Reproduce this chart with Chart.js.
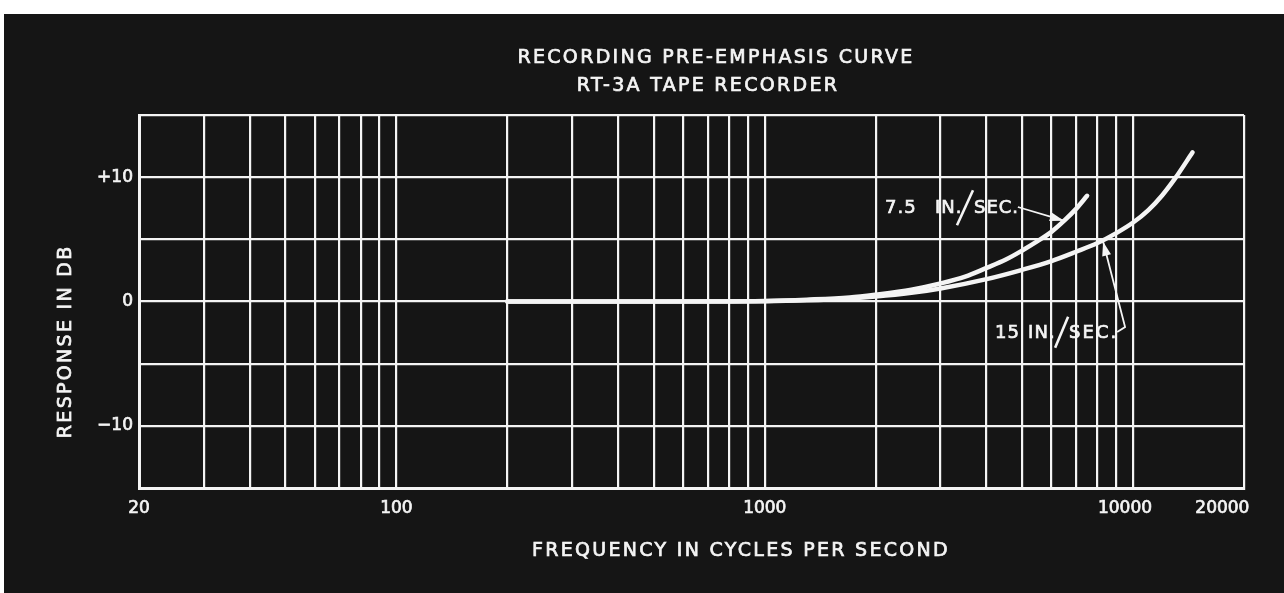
<!DOCTYPE html>
<html><head><meta charset="utf-8">
<script src="https://cdn.jsdelivr.net/npm/chart.js@4/dist/chart.umd.min.js"></script>
<style>html,body{margin:0;padding:0;background:#fff;overflow:hidden}</style>
</head><body>
<canvas id="c" width="1284" height="593"></canvas>
<script>
// ---- data ----
const titleLines = ['RECORDING PRE-EMPHASIS CURVE', 'RT-3A TAPE RECORDER'];
const xAxisTitle = 'FREQUENCY IN CYCLES PER SECOND';
const yAxisTitle = 'RESPONSE IN DB';
const gridFreqs = [20,30,40,50,60,70,80,90,100,200,300,400,500,600,700,800,900,1000,2000,3000,4000,5000,6000,7000,8000,9000,10000,20000];
const xLabelValues = [20, 100, 1000, 10000, 20000];
const xLabelTexts = ['20', '100', '1000', '10000', '20000'];
const yLabelValues = [10, 0, -10];
const yLabelTexts = ['+10', '0', '−10'];
const seriesNames = ['7.5 IN./SEC.', '15 IN./SEC.'];
const freq75 = [200, 500, 1000, 1300, 1700, 2000, 2500, 3000, 3500, 4000, 4500, 5000, 5500, 6000, 6500, 7000, 7500];
const db75   = [0,   0,   0.05, 0.15, 0.32, 0.55, 0.95, 1.45, 2.0,  2.7,  3.35, 4.1,  4.85, 5.6,  6.5,  7.45, 8.5];
const freq15 = [200, 500, 1000, 1300, 1700, 2000, 2500, 3000, 4000, 5000, 6000, 7000, 8000, 9000, 10000, 11000, 12000, 13000, 14500];
const db15   = [0,   0,   0.03, 0.1,  0.25, 0.4,  0.7,  1.05, 1.8,  2.55, 3.25, 4.0,  4.7,  5.5,  6.35,  7.35,  8.55,  9.9,   12.0];

const FONT = "'DejaVu Sans', sans-serif";
const WHITE = '#f4f4f4';

const bgPlugin = {
  id: 'bg',
  beforeDraw(chart) {
    const c = chart.ctx;
    c.save();
    c.fillStyle = '#ffffff';
    c.fillRect(0, 0, chart.width, chart.height);
    c.fillStyle = '#151515';
    c.fillRect(4, 14, chart.width - 4, chart.height - 14);
    c.restore();
  }
};

function arrowHead(ctx, x0, y0, x1, y1, len, half) {
  const a = Math.atan2(y1 - y0, x1 - x0);
  ctx.beginPath();
  ctx.moveTo(x1, y1);
  ctx.lineTo(x1 - len * Math.cos(a) + half * Math.sin(a), y1 - len * Math.sin(a) - half * Math.cos(a));
  ctx.lineTo(x1 - len * Math.cos(a) - half * Math.sin(a), y1 - len * Math.sin(a) + half * Math.cos(a));
  ctx.closePath();
  ctx.fill();
}

function txt(ctx, s, x, y) {
  ctx.fillText(s, x, y);
  ctx.lineWidth = 0.7;
  ctx.strokeText(s, x, y);
}

const textPlugin = {
  id: 'texts',
  afterDraw(chart) {
    const ctx = chart.ctx;
    const xs = chart.scales.x, ys = chart.scales.y;
    const P = (f, d) => [xs.getPixelForValue(f), ys.getPixelForValue(d)];
    const ca = chart.chartArea;
    ctx.save();
    ctx.fillStyle = WHITE;
    ctx.strokeStyle = WHITE;
    ctx.textBaseline = 'middle';
    // titles
    ctx.font = '19px ' + FONT;
    ctx.letterSpacing = '2.3px';
    ctx.textAlign = 'center';
    txt(ctx, titleLines[0], ca.left + 577, 58);
    txt(ctx, titleLines[1], ca.left + 569, 86);
    // x axis title
    txt(ctx, xAxisTitle, ca.left + 602, 551);
    // y axis title
    ctx.save();
    ctx.translate(66, ys.getPixelForValue(-3.2));
    ctx.rotate(-Math.PI / 2);
    txt(ctx, yAxisTitle, 0, 0);
    ctx.restore();

    // annotation 7.5
    ctx.letterSpacing = '1px';
    ctx.textAlign = 'left';
    ctx.font = '18px ' + FONT;
    let [ax, ay] = P(2120, 7.5);
    txt(ctx, '7.5', ax, ay);
    txt(ctx, 'IN.', ax + 50, ay);
    ctx.lineWidth = 2.6;
    ctx.beginPath(); ctx.moveTo(ax + 72, ay + 17); ctx.lineTo(ax + 88, ay - 18); ctx.stroke();
    txt(ctx, 'SEC.', ax + 89, ay);
    // arrow 7.5
    let [p0x, p0y] = P(4865, 7.6), [p1x, p1y] = P(6485, 6.5);
    ctx.lineWidth = 1.8;
    ctx.beginPath(); ctx.moveTo(p0x, p0y); ctx.lineTo(p1x, p1y); ctx.stroke();
    arrowHead(ctx, p0x, p0y, p1x, p1y, 14, 4.5);

    // annotation 15
    [ax, ay] = P(4220, -2.6);
    txt(ctx, '15', ax, ay);
    txt(ctx, 'IN.', ax + 33, ay);
    ctx.lineWidth = 2.6;
    ctx.beginPath(); ctx.moveTo(ax + 60, ay + 14); ctx.lineTo(ax + 73, ay - 17); ctx.stroke();
    ctx.letterSpacing = '2px';
    txt(ctx, 'SEC.', ax + 74, ay);
    // arrow 15
    const q0 = P(9050, -2.45), q1 = P(9510, -2.05), q2 = P(8290, 4.8);
    ctx.lineWidth = 1.8;
    ctx.beginPath(); ctx.moveTo(q0[0], q0[1]); ctx.lineTo(q1[0], q1[1]); ctx.lineTo(q2[0], q2[1]); ctx.stroke();
    arrowHead(ctx, q1[0], q1[1], q2[0], q2[1], 14, 4.5);
    ctx.restore();
  }
};

const toXY = (fs, ds) => fs.map((f, i) => ({ x: f, y: ds[i] }));

new Chart(document.getElementById('c'), {
  type: 'line',
  data: {
    datasets: [
      { label: seriesNames[0], data: toXY(freq75, db75), borderColor: WHITE, borderWidth: 4.5, pointRadius: 0, cubicInterpolationMode: 'monotone', fill: false, borderCapStyle: 'round' },
      { label: seriesNames[1], data: toXY(freq15, db15), borderColor: WHITE, borderWidth: 4.5, pointRadius: 0, cubicInterpolationMode: 'monotone', fill: false, borderCapStyle: 'round' }
    ]
  },
  options: {
    responsive: false,
    animation: false,
    layout: { padding: { top: 115, right: 40, left: 0, bottom: 0 } },
    plugins: { legend: { display: false }, title: { display: false }, tooltip: { enabled: false } },
    scales: {
      x: {
        type: 'logarithmic',
        min: 20, max: 20000,
        afterFit(scale) { scale.height = 105; scale.paddingLeft = 0; scale.paddingRight = 0; },
        afterBuildTicks(scale) { scale.ticks = gridFreqs.map(v => ({ value: v })); },
        grid: { color: WHITE, lineWidth: 2.2, drawTicks: false },
        border: { color: WHITE, width: 3 },
        ticks: {
          color: WHITE, padding: 10, maxRotation: 0, autoSkip: false,
          textStrokeColor: WHITE, textStrokeWidth: 0.7,
          font: { family: FONT, size: 17 },
          callback(value) {
            const i = xLabelValues.indexOf(value);
            if (i < 0) return '';
            const pad = i === xLabelValues.length - 1 ? '        ' : (i === xLabelValues.length - 2 ? '   ' : '');
            return xLabelTexts[i] + pad;
          }
        }
      },
      y: {
        min: -15, max: 15,
        afterFit(scale) { scale.width = 139; scale.paddingTop = 0; scale.paddingBottom = 0; },
        ticks: {
          stepSize: 5, color: WHITE, padding: 6,
          textStrokeColor: WHITE, textStrokeWidth: 0.7,
          font: { family: FONT, size: 17 },
          callback(value) {
            const i = yLabelValues.indexOf(value);
            return i < 0 ? '' : yLabelTexts[i];
          }
        },
        grid: { color: WHITE, lineWidth: 2.2, drawTicks: false },
        border: { color: WHITE, width: 3 }
      }
    }
  },
  plugins: [bgPlugin, textPlugin]
});
</script>
</body></html>
